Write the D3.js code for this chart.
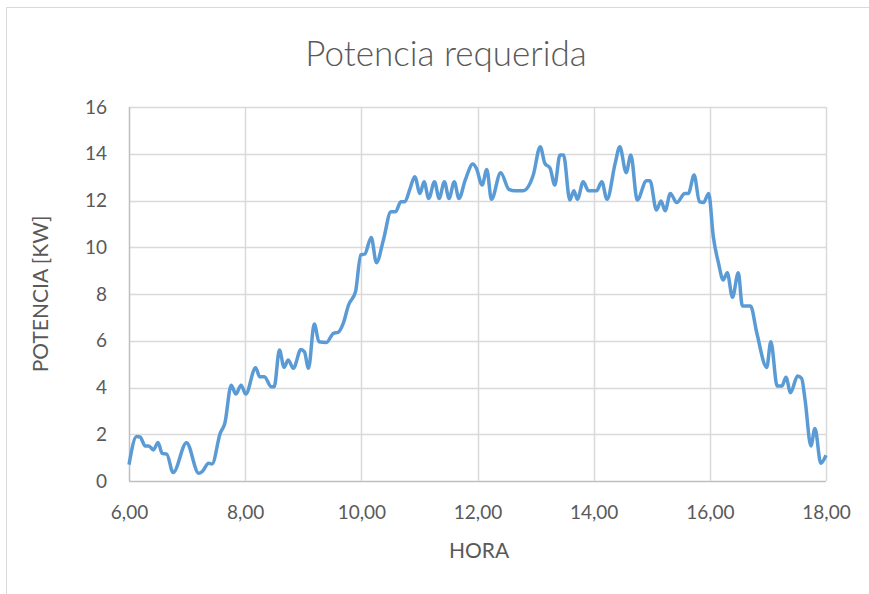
<!DOCTYPE html>
<html>
<head>
<meta charset="utf-8">
<script src="https://cdn.jsdelivr.net/npm/d3@7"></script>
<style>
  body { margin: 0; background: #fff; }
  text { font-family: Lato, "Open Sans", sans-serif; fill: #595959; }
</style>
</head>
<body>
<svg id="chart" width="869" height="594"></svg>
<script>
// horas (eje x) y potencia en kW
var hora = [6.00, 6.13, 6.19, 6.28, 6.34, 6.42, 6.50, 6.57, 6.65, 6.76, 6.99, 7.20, 7.26, 7.37, 7.43,
  7.57, 7.65, 7.76, 7.84, 7.93, 8.01, 8.18, 8.25, 8.33, 8.45, 8.50, 8.59, 8.67, 8.74, 8.83,
  8.96, 9.02, 9.09, 9.19, 9.27, 9.40, 9.52, 9.60, 9.69, 9.78, 9.90, 9.99, 10.06, 10.17, 10.26,
  10.38, 10.51, 10.59, 10.68, 10.75, 10.84, 10.92, 11.01, 11.08, 11.16, 11.26, 11.34, 11.43, 11.51,
  11.60, 11.68, 11.79, 11.92, 11.98, 12.08, 12.16, 12.24, 12.40, 12.54, 12.65, 12.79, 12.96, 13.08,
  13.16, 13.25, 13.33, 13.42, 13.48, 13.59, 13.66, 13.72, 13.82, 13.91, 14.05, 14.14, 14.23, 14.37,
  14.45, 14.56, 14.64, 14.75, 14.91, 14.97, 15.08, 15.16, 15.23, 15.32, 15.43, 15.57, 15.63, 15.73,
  15.82, 15.89, 15.98, 16.06, 16.15, 16.23, 16.30, 16.39, 16.49, 16.56, 16.70, 16.81, 16.98, 17.05,
  17.16, 17.24, 17.31, 17.39, 17.51, 17.58, 17.64, 17.74, 17.81, 17.91, 18.00];
var potencia = [0.70, 1.90, 1.88, 1.50, 1.50, 1.33, 1.65, 1.18, 1.15, 0.36, 1.64, 0.33, 0.40, 0.76, 0.73,
  2.04, 2.47, 4.10, 3.72, 4.10, 3.72, 4.85, 4.46, 4.46, 4.03, 4.03, 5.60, 4.86, 5.18, 4.82,
  5.63, 5.53, 4.82, 6.72, 5.96, 5.93, 6.32, 6.36, 6.75, 7.53, 8.10, 9.67, 9.71, 10.42, 9.34,
  10.31, 11.52, 11.52, 11.95, 11.95, 12.52, 13.02, 12.30, 12.80, 12.09, 12.80, 12.09, 12.80, 12.09,
  12.80, 12.09, 12.88, 13.56, 13.38, 12.66, 13.33, 12.05, 13.19, 12.48, 12.42, 12.42, 13.09, 14.30,
  13.59, 13.38, 12.66, 13.95, 13.95, 12.02, 12.42, 12.05, 12.80, 12.42, 12.42, 12.80, 12.05, 13.59,
  14.30, 13.19, 13.95, 12.02, 12.85, 12.85, 11.59, 11.98, 11.56, 12.30, 11.91, 12.30, 12.30, 13.09,
  11.95, 11.91, 12.30, 10.45, 9.31, 8.60, 8.91, 7.86, 8.91, 7.49, 7.49, 6.32, 4.86, 5.96,
  4.06, 4.06, 4.44, 3.78, 4.49, 4.39, 3.47, 1.50, 2.25, 0.76, 1.10];
var xTicks = [6, 8, 10, 12, 14, 16, 18];
var yTicks = [0, 2, 4, 6, 8, 10, 12, 14, 16];

var svg = d3.select('#chart');
var pLeft = 129, pRight = 826, pTop = 107, pBottom = 481;

// marco del grafico
svg.append('rect')
  .attr('x', 6.5).attr('y', 7.5)
  .attr('width', 880).attr('height', 600)
  .attr('fill', 'none').attr('stroke', '#d9d9d9');

var x = d3.scaleLinear().domain([6, 18]).range([pLeft, pRight]);
var y = d3.scaleLinear().domain([0, 16]).range([pBottom, pTop]);

// rejilla
svg.append('g').selectAll('line').data(yTicks).enter().append('line')
  .attr('x1', pLeft).attr('x2', pRight)
  .attr('y1', function(d){ return Math.round(y(d)) + 0.5; })
  .attr('y2', function(d){ return Math.round(y(d)) + 0.5; })
  .attr('stroke', function(d){ return d == 0 ? '#bfbfbf' : '#d9d9d9'; })
  .attr('stroke-width', 1.5);
svg.append('g').selectAll('line').data(xTicks).enter().append('line')
  .attr('y1', pTop).attr('y2', pBottom)
  .attr('x1', function(d){ return Math.round(x(d)) + 0.5; })
  .attr('x2', function(d){ return Math.round(x(d)) + 0.5; })
  .attr('stroke', function(d){ return d == 6 ? '#bfbfbf' : '#d9d9d9'; })
  .attr('stroke-width', 1.5);

// ejes (solo etiquetas)
svg.append('g').attr('transform', 'translate(0,' + pBottom + ')')
  .call(d3.axisBottom(x).tickValues(xTicks).tickSize(0).tickPadding(25)
    .tickFormat(function(d){ return d.toFixed(2).replace('.', ','); }));
svg.append('g').attr('transform', 'translate(' + pLeft + ',0)')
  .call(d3.axisLeft(y).tickValues(yTicks).tickSize(0).tickPadding(22));
svg.selectAll('.domain').remove();
svg.selectAll('.tick text').style('font-family', 'Lato, "Open Sans", sans-serif')
  .style('font-size', '19px').attr('fill', '#595959');

// linea
var line = d3.line()
  .x(function(d){ return x(d[0]); })
  .y(function(d){ return y(d[1]); })
  .curve(d3.curveMonotoneX);
svg.append('path')
  .datum(hora.map(function(h, i){ return [h, potencia[i]]; }))
  .attr('d', line)
  .attr('fill', 'none')
  .attr('stroke', '#5b9bd5')
  .attr('stroke-width', 3.5)
  .attr('stroke-linejoin', 'round');

// titulos
svg.append('text').attr('x', 446).attr('y', 66).attr('text-anchor', 'middle')
  .style('font-size', '35px').style('font-weight', 300).text('Potencia requerida');
svg.append('text').attr('x', 479).attr('y', 558).attr('text-anchor', 'middle')
  .style('font-size', '21px').text('HORA');
svg.append('text').attr('transform', 'translate(48,294) rotate(-90)').attr('text-anchor', 'middle')
  .style('font-size', '21px').text('POTENCIA [KW]');
</script>
</body>
</html>
